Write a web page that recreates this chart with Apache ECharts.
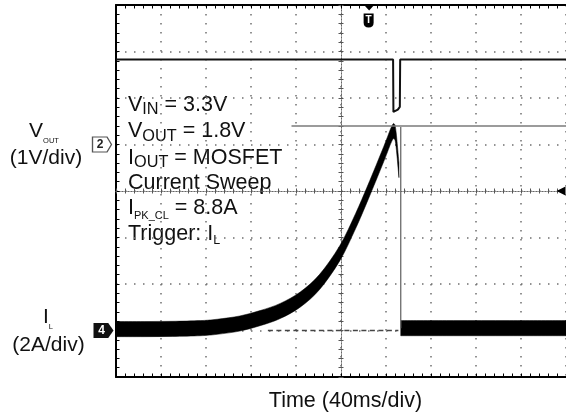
<!DOCTYPE html>
<html><head><meta charset="utf-8">
<script src="https://cdn.jsdelivr.net/npm/echarts@6/dist/echarts.min.js"></script>
<style>html,body{margin:0;padding:0;background:#fff}#c{width:566px;height:417px}</style>
</head><body><div id="c"></div>
<script>
// ---------------- data (read from the scope capture) ----------------
const timeRange = [-200, 200];   // ms, 40 ms/div, 10 divisions
const voutRange = [-5, 3];       // V, 1 V/div (CH2 ground marker)
const ilRange = [-2, 14];        // A, 2 A/div (CH4 ground marker)
const centerRange = [-4, 4];     // divisions, used for the graticule centre line

// V_OUT trace
const voutTime  = [-200, -120, -40, 46.3, 46.6, 48.0, 50.5, 52.3, 52.6, 120, 200];
const voutVolts = [1.83, 1.83, 1.83, 1.83, 0.70, 0.66, 0.75, 0.81, 1.83, 1.83, 1.83];

// I_L ramp (centre of the noisy trace)
const ilRampTime = [-200, -175, -150, -125, -110, -90, -72, -54, -36, -19, -1, 13, 24, 38, 45, 47.5, 49, 51.5];
const ilRampAmps = [0.06, 0.06, 0.07, 0.10, 0.16, 0.30, 0.53, 0.84, 1.34, 2.09, 3.33, 4.71, 5.94, 7.59, 8.45, 8.55, 8.2, 6.9];
// I_L fast turn-off edge
const ilDropTime = [53.1, 53.1];
const ilDropAmps = [8.75, 0.1];
// I_L after current limit
const ilAfterTime = [53.1, 100, 150, 200];
const ilAfterAmps = [0.1, 0.1, 0.1, 0.1];
const ilNoiseBand = 0.65;        // A, vertical width of the noisy trace

const peakCurrent = 8.8;          // I_PK_CL cursor
const peakCursorStart = -44;
const zeroRefTime = [-65, 51];    // dashed 0 A reference
const triggerTime = 25;
const triggerLevel = 6;

// ---------------- chart ----------------
const FONT = 'Liberation Sans, Arial, Helvetica, sans-serif';
const pairs = (xs, ys) => xs.map((x, i) => [x, ys[i]]);

const chart = echarts.init(document.getElementById('c'), null, {renderer: 'canvas'});

const black = '#000';
const dotted = {color: '#6f6f6f', width: 1.5, type: [1.5, 7.5]};
const baseX = {type: 'value', min: timeRange[0], max: timeRange[1], interval: 40,
  axisLabel: {show: false}, splitLine: {show: false}};
const borderTick = {show: true, inside: true, length: 3.5, lineStyle: {color: black, width: 1}};
const borderMinor = {show: true, splitNumber: 5, length: 3.5, lineStyle: {color: black, width: 1}};
const centerLine = {color: '#666', width: 1, type: [1, 2]};
const centerTickIn = {show: true, inside: true, length: 2.5, lineStyle: {color: '#555', width: 1}};
const centerTickOut = {show: true, inside: false, length: 2.5, lineStyle: {color: '#555', width: 1}};
const centerMinor = {show: true, splitNumber: 5, length: 2.5, lineStyle: {color: '#555', width: 1}};

// smooth (Catmull-Rom, x-monotone) path through pixel points, drawing only
function curveSegs(pts) {
  let d = '';
  const n = pts.length;
  const clamp = (v, a, b) => Math.max(Math.min(a, b), Math.min(Math.max(a, b), v));
  for (let i = 0; i < n - 1; i++) {
    const p0 = pts[i - 1] || pts[i], p1 = pts[i], p2 = pts[i + 1], p3 = pts[i + 2] || pts[i + 1];
    const c1 = [clamp(p1[0] + (p2[0] - p0[0]) / 6, p1[0], p2[0]), p1[1] + (p2[1] - p0[1]) / 6];
    const c2 = [clamp(p2[0] - (p3[0] - p1[0]) / 6, p1[0], p2[0]), p2[1] - (p3[1] - p1[1]) / 6];
    d += ' C' + c1[0].toFixed(2) + ',' + c1[1].toFixed(2) + ' ' + c2[0].toFixed(2) + ',' + c2[1].toFixed(2) +
         ' ' + p2[0].toFixed(2) + ',' + p2[1].toFixed(2);
  }
  return d;
}
// noisy trace drawn as a band of constant vertical width around the read centre values
function bandRenderer(params, api) {
  if (params.dataIndexInside !== 0) return null;
  const n = params.dataInsideLength;
  const top = [], bot = [];
  for (let i = 0; i < n; i++) {
    const t = api.value(0, i), a = api.value(1, i);
    top.push(api.coord([t, a + ilNoiseBand / 2]));
    bot.push(api.coord([t, a - ilNoiseBand / 2]));
  }
  bot.reverse();
  const d = 'M' + top[0][0] + ',' + top[0][1] + curveSegs(top) +
            ' L' + bot[0][0] + ',' + bot[0][1] + curveSegs(bot) + ' Z';
  return {type: 'path', shape: {pathData: d},
    style: {fill: '#000', stroke: '#000', lineWidth: 0.5}};
}

const mainStyle = {fontSize: 21.5, lineHeight: 26, fill: '#111', fontFamily: FONT, verticalAlign: 'middle'};
const rich = {
  m: mainStyle,
  in: {fontSize: 16.3, lineHeight: 19, fill: '#111', fontFamily: FONT, verticalAlign: 'bottom'},
  out: {fontSize: 16.3, lineHeight: 21, fill: '#111', fontFamily: FONT, verticalAlign: 'bottom'},
  pk: {fontSize: 11, lineHeight: 16.7, fill: '#111', fontFamily: FONT, verticalAlign: 'bottom'},
  l: {fontSize: 12.5, lineHeight: 4, fill: '#111', fontFamily: FONT, verticalAlign: 'bottom'},
  lm: {fontSize: 21, lineHeight: 26, fill: '#111', fontFamily: FONT, verticalAlign: 'middle'},
  tiny: {fontSize: 7.5, lineHeight: 1, fill: '#111', fontFamily: FONT, verticalAlign: 'bottom'},
  tinyL: {fontSize: 7.5, lineHeight: 6, fill: '#111', fontFamily: FONT, verticalAlign: 'bottom'}
};
const txt = (x, y, text, align) => ({type: 'text', x: x, y: y, silent: true,
  style: {text: text, rich: rich, align: align || 'left', verticalAlign: 'middle', fill: '#111', fontFamily: FONT}});

const option = {
  animation: false,
  backgroundColor: '#fff',
  grid: {left: 116, top: 5, width: 450, height: 372, containLabel: false, outerBoundsMode: 'none'},
  xAxis: [
    Object.assign({}, baseX, {position: 'bottom',
      axisLine: {show: true, onZero: false, lineStyle: {color: black, width: 2}},
      axisTick: borderTick, minorTick: borderMinor,
      splitLine: {show: true, lineStyle: dotted},
      name: 'Time (40ms/div)', nameLocation: 'middle', nameGap: 13,
      nameTextStyle: {fontSize: 21.5, color: '#111', fontFamily: FONT, padding: [0, 0, 0, 9]}}),
    Object.assign({}, baseX, {position: 'top',
      axisLine: {show: true, onZero: false, lineStyle: {color: black, width: 2}},
      axisTick: borderTick, minorTick: borderMinor}),
    Object.assign({}, baseX, {position: 'bottom',
      axisLine: {show: true, onZero: true, onZeroAxisIndex: 2, lineStyle: centerLine},
      axisTick: centerTickIn, minorTick: centerMinor}),
    Object.assign({}, baseX, {position: 'bottom',
      axisLine: {show: true, onZero: true, onZeroAxisIndex: 2, lineStyle: centerLine},
      axisTick: centerTickOut, minorTick: centerMinor})
  ],
  yAxis: [
    {type: 'value', min: voutRange[0], max: voutRange[1], interval: 1, position: 'left',
      axisLine: {show: true, onZero: false, lineStyle: {color: black, width: 2}},
      axisTick: borderTick, minorTick: borderMinor, axisLabel: {show: false},
      splitLine: {show: true, lineStyle: dotted}},
    {type: 'value', min: ilRange[0], max: ilRange[1], interval: 2, show: false},
    {type: 'value', min: centerRange[0], max: centerRange[1], interval: 1, show: false},
    {type: 'value', min: centerRange[0], max: centerRange[1], interval: 1, position: 'left',
      axisLine: {show: true, onZero: true, onZeroAxisIndex: 0, lineStyle: centerLine},
      axisTick: centerTickIn, minorTick: centerMinor, axisLabel: {show: false}, splitLine: {show: false}},
    {type: 'value', min: centerRange[0], max: centerRange[1], interval: 1, position: 'left',
      axisLine: {show: true, onZero: true, onZeroAxisIndex: 0, lineStyle: centerLine},
      axisTick: centerTickOut, minorTick: centerMinor, axisLabel: {show: false}, splitLine: {show: false}}
  ],
  series: [
    {name: 'VOUT', type: 'line', xAxisIndex: 0, yAxisIndex: 0, data: pairs(voutTime, voutVolts),
      symbol: 'none', lineStyle: {color: '#111', width: 2}, z: 5,
      markPoint: {silent: true, animation: false, data: [
        {coord: [timeRange[0], 0], symbol: 'path://M0,0 L13,0 L17,7 L13,14 L0,14 Z', symbolSize: [19, 15],
          symbolOffset: [-14, 0], itemStyle: {color: '#fff', borderColor: '#555', borderWidth: 1.2},
          label: {show: true, position: 'inside', formatter: '2', color: '#222', fontSize: 12, fontWeight: 'bold', fontFamily: FONT, offset: [-2, 0]}},
        {coord: [triggerTime, voutRange[1]], symbol: 'path://M0,0 L10,0 L5,6 Z', symbolSize: [11, 6],
          symbolOffset: [0, 2.5], itemStyle: {color: '#000'}, label: {show: false}},
        {coord: [triggerTime, voutRange[1]], symbol: 'path://M0,0 L10,0 L10,10 Q10,15 5,15 Q0,15 0,10 Z', symbolSize: [10, 14],
          symbolOffset: [-0.5, 15.5], itemStyle: {color: '#000'},
          label: {show: true, position: 'inside', formatter: 'T', color: '#fff', fontSize: 10, fontWeight: 'bold', fontFamily: FONT}}
      ]}},
    {name: 'IL ramp', type: 'custom', xAxisIndex: 0, yAxisIndex: 1, data: pairs(ilRampTime, ilRampAmps),
      encode: {x: 0, y: 1}, renderItem: bandRenderer, clip: true, z: 3, silent: true},
    {name: 'IL after', type: 'custom', xAxisIndex: 0, yAxisIndex: 1, data: pairs(ilAfterTime, ilAfterAmps),
      encode: {x: 0, y: 1}, renderItem: bandRenderer, clip: true, z: 3, silent: true},
    {name: 'IL drop', type: 'line', xAxisIndex: 0, yAxisIndex: 1, data: pairs(ilDropTime, ilDropAmps),
      symbol: 'none', lineStyle: {color: '#6a6a6a', width: 1.3}, z: 4,
      markLine: {silent: true, animation: false, symbol: 'none', label: {show: false}, data: [
        [{coord: [peakCursorStart, peakCurrent]}, {coord: [timeRange[1], peakCurrent], lineStyle: {color: '#7a7a7a', width: 1.5, type: 'solid'}}],
        [{coord: [zeroRefTime[0], 0]}, {coord: [zeroRefTime[1], 0], lineStyle: {color: '#444', width: 1.4, type: [5, 3.5]}}]
      ]},
      markPoint: {silent: true, animation: false, data: [
        {coord: [timeRange[0], 0], symbol: 'path://M0,0 L14,0 L19,7 L14,14 L0,14 Z', symbolSize: [20, 15],
          symbolOffset: [-12.5, 0], itemStyle: {color: '#111'},
          label: {show: true, position: 'inside', formatter: '4', color: '#fff', fontSize: 12, fontWeight: 'bold', fontFamily: FONT, offset: [-2, 0]}},
        {coord: [timeRange[1], triggerLevel], symbol: 'path://M0,5 L9,0 L9,10 Z', symbolSize: [9, 9],
          symbolOffset: [-5, 0], itemStyle: {color: '#000'}, label: {show: false}}
      ]}}
  ],
  graphic: {elements: [
    txt(44, 131.5, '{lm|V}{tiny|OUT}', 'center'),
    txt(46, 158, '{lm|(1V/div)}', 'center'),
    txt(48, 317.5, '{lm|I}{tinyL|L}', 'center'),
    txt(48.5, 345, '{lm|(2A/div)}', 'center'),
    txt(128, 105, '{m|V}{in|IN}{m| = 3.3V}'),
    txt(128, 131.5, '{m|V}{out|OUT}{m| = 1.8V}'),
    txt(128, 158, '{m|I}{out|OUT}{m| = MOSFET}'),
    txt(128, 183, '{m|Current Sweep}'),
    txt(128, 208.5, '{m|I}{pk|PK_CL}{m| = 8.8A}'),
    txt(128, 234.5, '{m|Trigger: I}{l|L}')
  ]}
};
chart.setOption(option);
</script></body></html>
